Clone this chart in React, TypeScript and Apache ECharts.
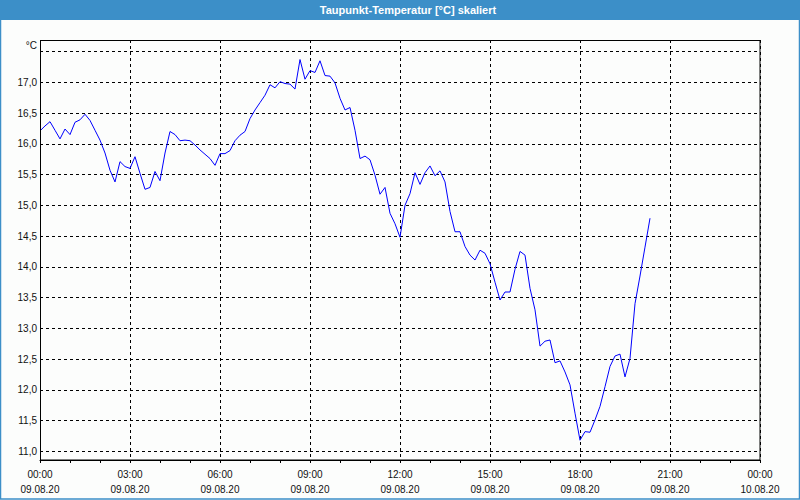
import React, { useEffect, useRef } from "react";
import * as echarts from "echarts";

const titleText = "Taupunkt-Temperatur [°C] skaliert";
const unitLabel = "°C";
const startMinute = 0; // 09.08.20 00:00
const stepMinutes = 10;
const dewPoint = [
  16.21, 16.29, 16.36, 16.22, 16.08, 16.24, 16.15, 16.35, 16.39, 16.48, 16.38, 16.22,
  16.06, 15.85, 15.57, 15.38, 15.71, 15.63, 15.6, 15.79, 15.52, 15.26, 15.29, 15.55,
  15.4, 15.85, 16.2, 16.15, 16.05, 16.06, 16.05, 15.98, 15.9, 15.83, 15.76, 15.65,
  15.84, 15.84, 15.89, 16.05, 16.14, 16.2, 16.41, 16.55, 16.67, 16.79, 16.96, 16.91,
  17.01, 16.98, 16.97, 16.89, 17.37, 17.05, 17.19, 17.16, 17.35, 17.11, 17.1, 16.99,
  16.74, 16.55, 16.59, 16.22, 15.76, 15.8, 15.74, 15.49, 15.18, 15.29, 14.87, 14.7,
  14.48, 15.0, 15.19, 15.53, 15.34, 15.53, 15.64, 15.48, 15.56, 15.38, 14.9, 14.57,
  14.57, 14.33, 14.19, 14.11, 14.27, 14.22, 14.05, 13.75, 13.46, 13.59, 13.59, 13.96,
  14.25, 14.19, 13.65, 13.3, 12.71, 12.79, 12.81, 12.44, 12.47, 12.29, 12.08, 11.62,
  11.18, 11.32, 11.31, 11.51, 11.73, 12.05, 12.38, 12.55, 12.58, 12.21, 12.51, 13.4,
  13.85, 14.32, 14.79,
];
const xTickDates = ["09.08.20", "10.08.20"];
const yMin = 11.0;
const yMax = 17.5;
const yStep = 0.5;
const xMinMinutes = 0;
const xMaxMinutes = 1440;
const xStepMinutes = 180;

const FONT = "'Liberation Sans', Arial, sans-serif";

export default function App() {
  const ref = useRef<HTMLDivElement>(null);
  useEffect(() => {
    document.body.style.margin = "0";
    const chart = echarts.init(ref.current!, null, { renderer: "svg" });
    const data = dewPoint.map((v, i) => [startMinute + i * stepMinutes, v]);
    const fmtX = (m: number) => {
      const day = Math.floor(m / 1440);
      const mm = m % 1440;
      const h = Math.floor(mm / 60);
      const mi = mm % 60;
      const t = String(h).padStart(2, "0") + ":" + String(mi).padStart(2, "0");
      return t + "\n" + xTickDates[Math.min(day, xTickDates.length - 1)];
    };
    chart.setOption({
      animation: false,
      backgroundColor: "#fcfdfc",
      graphic: [
        { type: "rect", shape: { x: 0, y: 0, width: 800, height: 20 }, style: { fill: "#3c8fc8" }, silent: true },
        {
          type: "rect",
          shape: { x: 0.5, y: 0.5, width: 799, height: 498.5 },
          style: { fill: "none", stroke: "#3c8fc8", lineWidth: 1.5 },
          silent: true,
        },
        {
          type: "rect",
          z: 100,
          shape: { x: 40.5, y: 40.5, width: 719.5, height: 419.5 },
          style: { fill: "none", stroke: "#000", lineWidth: 1 },
          silent: true,
        },
        {
          type: "text",
          x: 408,
          y: 10,
          style: {
            text: titleText,
            fill: "#ffffff",
            font: "bold 11px " + FONT,
            align: "center",
            verticalAlign: "middle",
          },
        },
        {
          type: "text",
          x: 37,
          y: 45,
          style: {
            text: unitLabel,
            fill: "#111",
            font: "10px " + FONT,
            align: "right",
            verticalAlign: "middle",
          },
        },
      ],
      grid: [
        { left: 40, right: 40, top: 40, bottom: 40 },
        { left: 40, right: 40, top: 51.55, bottom: 48.7 },
      ],
      xAxis: [
        {
          gridIndex: 0,
          type: "value",
          min: xMinMinutes,
          max: xMaxMinutes,
          interval: xStepMinutes,
          axisLine: { show: true, lineStyle: { color: "#000", width: 1 } },
          axisTick: { show: true, length: 3, lineStyle: { color: "#000" } },
          minorTick: { show: true, splitNumber: 3, length: 3, lineStyle: { color: "#000" } },
          splitLine: { show: true, lineStyle: { color: "#000", type: [3, 3], width: 1 } },
          axisLabel: {
            formatter: fmtX,
            color: "#111",
            fontFamily: FONT,
            fontSize: 10,
            lineHeight: 15,
            margin: 7,
          },
        },
        { gridIndex: 1, type: "value", min: xMinMinutes, max: xMaxMinutes, show: false, splitLine: { show: false } },
      ],
      yAxis: [
        { gridIndex: 0, type: "value", min: 0, max: 1, show: false, splitLine: { show: false } },
        {
          gridIndex: 1,
          type: "value",
          min: yMin,
          max: yMax,
          interval: yStep,
          axisLine: { show: false },
          axisTick: { show: false },
          splitLine: { show: true, lineStyle: { color: "#000", type: [3, 3], width: 1 } },
          axisLabel: {
            showMaxLabel: false,
            formatter: (v: number) => (v >= yMax ? "" : v.toFixed(1).replace(".", ",")),
            color: "#111",
            fontFamily: FONT,
            fontSize: 10,
            margin: 3,
          },
        },
      ],
      series: [
        {
          type: "line",
          xAxisIndex: 1,
          yAxisIndex: 1,
          data,
          showSymbol: false,
          symbol: "none",
          lineStyle: { color: "#0000ff", width: 1 },
          clip: false,
        },
      ],
    });
    return () => chart.dispose();
  }, []);
  return <div ref={ref} style={{ width: 800, height: 500 }} />;
}
